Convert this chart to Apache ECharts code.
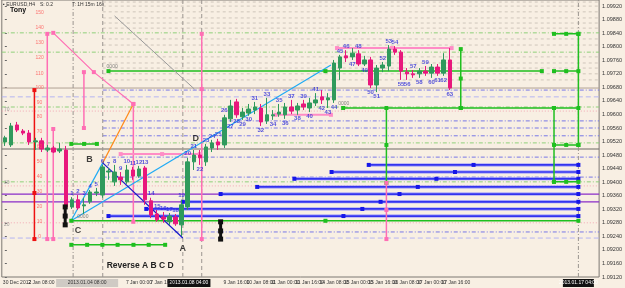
<!DOCTYPE html>
<html><head><meta charset="utf-8">
<script src="https://cdn.jsdelivr.net/npm/echarts/dist/echarts.min.js"></script>
<style>html,body{margin:0;padding:0;background:#f8efe3;}#c{width:625px;height:288px;}</style>
</head><body><div id="c"></div>
<script>
// ---------------- DATA ----------------
// candles: [open, close, low, high], one per bar (bar 0 = first visible bar)
const candles = [
[1.09519,1.09531,1.09507,1.09537],[1.09510,1.09566,1.09504,1.09575],[1.09569,1.09554,1.09548,1.09578],
[1.09551,1.09545,1.09539,1.09557],[1.09545,1.09519,1.09510,1.09554],[1.09519,1.09522,1.09495,1.09531],
[1.09522,1.09498,1.09489,1.09531],[1.09495,1.09501,1.09489,1.09510],[1.09501,1.09489,1.09486,1.09507],
[1.09492,1.09498,1.09486,1.09516],[1.09495,1.09327,1.09318,1.09507],
[1.09327,1.09348,1.09321,1.09356],[1.09348,1.09324,1.09318,1.09362],[1.09330,1.09333,1.09306,1.09354],
[1.09342,1.09371,1.09336,1.09377],[1.09368,1.09371,1.09359,1.09383],[1.09362,1.09445,1.09354,1.09451],
[1.09430,1.09433,1.09407,1.09442],[1.09401,1.09430,1.09389,1.09451],[1.09415,1.09407,1.09392,1.09430],
[1.09401,1.09436,1.09395,1.09451],[1.09436,1.09418,1.09407,1.09445],[1.09418,1.09439,1.09413,1.09448],
[1.09442,1.09348,1.09333,1.09448],[1.09345,1.09303,1.09294,1.09354],[1.09306,1.09289,1.09283,1.09318],
[1.09297,1.09291,1.09280,1.09312],[1.09283,1.09300,1.09274,1.09309],[1.09297,1.09277,1.09271,1.09306],
[1.09274,1.09333,1.09241,1.09348],[1.09327,1.09460,1.09318,1.09472],[1.09460,1.09480,1.09436,1.09495],
[1.09480,1.09472,1.09451,1.09495],[1.09460,1.09504,1.09448,1.09513],[1.09501,1.09516,1.09489,1.09525],
[1.09519,1.09510,1.09495,1.09528],[1.09510,1.09590,1.09501,1.09599],[1.09587,1.09625,1.09578,1.09643],
[1.09637,1.09599,1.09590,1.09646],[1.09593,1.09607,1.09584,1.09619],[1.09604,1.09616,1.09596,1.09631],
[1.09613,1.09622,1.09601,1.09637],[1.09619,1.09578,1.09566,1.09631],[1.09581,1.09599,1.09572,1.09649],
[1.09596,1.09599,1.09584,1.09613],[1.09601,1.09607,1.09593,1.09631],[1.09599,1.09622,1.09587,1.09634],
[1.09622,1.09610,1.09601,1.09643],[1.09613,1.09625,1.09599,1.09634],[1.09631,1.09622,1.09613,1.09643],
[1.09619,1.09634,1.09607,1.09649],[1.09634,1.09643,1.09625,1.09663],[1.09652,1.09643,1.09631,1.09672],
[1.09643,1.09649,1.09619,1.09663],[1.09643,1.09752,1.09634,1.09761],[1.09737,1.09770,1.09702,1.09776],
[1.09773,1.09767,1.09755,1.09790],[1.09770,1.09781,1.09761,1.09796],[1.09779,1.09749,1.09743,1.09790],
[1.09749,1.09761,1.09743,1.09773],[1.09761,1.09687,1.09678,1.09770],[1.09687,1.09737,1.09666,1.09746],
[1.09737,1.09746,1.09725,1.09755],[1.09743,1.09793,1.09728,1.09805],[1.09793,1.09784,1.09776,1.09802],
[1.09784,1.09728,1.09702,1.09790],[1.09725,1.09720,1.09702,1.09737],[1.09720,1.09717,1.09708,1.09731],
[1.09720,1.09728,1.09708,1.09737],[1.09728,1.09722,1.09714,1.09743],[1.09722,1.09740,1.09708,1.09749],
[1.09740,1.09722,1.09714,1.09749],[1.09722,1.09761,1.09714,1.09781],[1.09761,1.09678,1.09672,1.09796]
];
const firstNumberedBar = 11;          // bar of candle "1"
const numberSides = "uuuuuuuuuuuuuuuuuuuu" + "uduuuudddd" + "ududududud" + "uddduududd" + "duuuddudud" + "ddd";
const barCount = 98;

const timeLabelBars  = [2, 6, 22, 26, 38, 42, 46, 50, 54, 58, 62, 66, 70, 74];
const timeLabelTexts = ['30 Dec 2012','2 Jan 08:00','7 Jan 00:00','7 Jan 16:00','9 Jan 16:00','10 Jan 08:00',
  '11 Jan 00:00','11 Jan 16:00','14 Jan 08:00','15 Jan 00:00','15 Jan 16:00','16 Jan 08:00','17 Jan 00:00','17 Jan 16:00'];

const priceMin = 1.0912, priceMax = 1.09938, priceStep = 0.0004;

// horizontal levels
const grayDashLevels  = [1.09932,1.09920,1.09903,1.09885,1.09870,1.09855,1.09823,1.09805,1.09770,1.09752,1.09737,1.09720,1.09702];
const greenDashLevels = [1.09841,1.09784,1.09622,1.09516,1.09401];
const pinkDotLevels   = [1.09610,1.09389,1.09280];
const blueDashLevels  = [1.09672,1.09581,1.09560,1.09537,1.09474,1.09415,1.09253];
const lavenderLevels  = [1.09652,1.09235];
const graySolidLevels = [1.09678,1.09498];
const purpleLevels    = [1.09365,1.09342];
const levelStartBar = 16.06;

const blueLevels    = [1.09451,1.09430,1.09410,1.09386,1.09365,1.09342,1.09321,1.09300];
const blueStartBars = [59.7,53.6,47.5,41.4,35.4,29.2,23.2,17.0];
const rightBar = 94.1;

const greenHLevels = [1.09728,1.09619,1.09286,1.09513,1.09215];
const greenHBars   = [[17,52.6,88.1],[55.5,74.8,90.1,94.1],[10.9,52.6,94.1],[10.9,13,15.1],[10.9,13.5,16,18.5,21.1,23.6,26.3]];
const greenVBars   = [62.6,74.8,94.1,90.1];
const greenVPrices = [[1.09619,1.09510,1.09398],[1.09793,1.09706,1.09619],[1.09838,1.09510],[1.09619,1.09401]];
const greenBoxLevels = [1.09838,1.09728,1.09510,1.09401];
const greenBoxBars   = [90.1,92.1,94.1];

const pinkVBars   = [6.96,7.94,12.97,21.08,32.3,62.6];
const pinkVPrices = [[1.09838,1.09232],[1.09557,1.09232],[1.09725,1.09560],[1.09631,1.09283],[1.09838,1.09675,1.09232],[1.09398,1.09318,1.09232]];
const redVBar = 4.85, redVPrices = [1.09672,1.09368,1.09232];
const pinkHLevels = [1.09796,1.09599,1.09483];
const pinkHBars   = [[54.5,63.5,73.3],[44.4,53.5],[19,25.8,32]];
const pinkDiag    = [[7.94,1.09841],[14.6,1.09725],[21.08,1.09631]];

const cyanShort = [[10.86,1.09286],[16.06,1.09457]];
const cyanLong  = [[10.86,1.09286],[53.5,1.09746]];
const orangeLeg = [[16.06,1.09457],[21.08,1.09631]];
const navyLeg   = [[16.06,1.09457],[29.2,1.09235]];
const grayDiag  = [[18,1.09891],[31.1,1.09675]];
const blackMarks = [[[9.9,1.09327],[9.9,1.09300],[9.9,1.09274]],[[35.4,1.09283],[35.4,1.09256],[35.4,1.09232]]];
const vDashBars = [11.2,16.06,29.2,32.3,94.1];

const pointNames  = ['A','B','C','D'];
const pointBars   = [29.2,13.9,12.0,31.3];
const pointPrices = [1.09203,1.09466,1.09256,1.09528];
const zeroBars    = [17.6,55.6,12.8];
const zeroPrices  = [1.09740,1.09631,1.09297];
const rulerTexts  = ['150','140','130','120','110','100','90','80','70','60','50','40','30','20','10','0'];
const rulerPrices = [1.09900,1.09855,1.09811,1.09767,1.09722,1.09678,1.09634,1.09593,1.09548,1.09504,1.09460,1.09415,1.09371,1.09327,1.09283,1.09238];
const rulerBar = 5.7;
const sideTexts = ['70','30','20'];
const sidePrices = [1.09613,1.09398,1.09274];

const tagPrices = [1.09841,1.09784,1.09678,1.09619,1.09610,1.09510,1.09495,1.09401,1.09389,1.09368,1.09345,1.09280,1.09235];
const tagKinds  = ['g','g','k','g','p','g','k','g','p','v','v','p','l'];

const timeBoxBars  = [13.5, 30.2, 94.1];
const timeBoxTexts = ['2013.01.04 08:00','2013.01.08 04:00','2013.01.17 04:00'];

// ---------------- CHART ----------------
const chart = echarts.init(document.getElementById('c'));
const FONT = 'Liberation Sans, Arial, sans-serif';
const cats = []; for (let i = 0; i < barCount; i++) cats.push(String(i));
const series = [];
const lo = -0.5, hi = barCount - 0.5;

function L(data, color, width, type, sym, z) {
  series.push({type:'line', xAxisIndex:1, data:data, silent:true, animation:false,
    symbol: sym ? 'rect' : 'none', symbolSize: sym || 0, showSymbol: !!sym,
    lineStyle:{color:color, width:width, type:type||'solid'}, itemStyle:{color:color},
    z: z || 2});
}
const DD = [4,2,1,2];
grayDashLevels.forEach(p => L([[levelStartBar,p],[hi,p]], '#cfc6bb', 1, [3,3]));
greenDashLevels.forEach(p => L([[lo,p],[hi,p]], '#8fd07a', 1, DD));
pinkDotLevels.forEach(p => L([[lo,p],[hi,p]], '#f2a8b4', 1, [1,2]));
blueDashLevels.forEach(p => L([[levelStartBar,p],[hi,p]], '#7777e6', 1, DD));
lavenderLevels.forEach(p => L([[lo,p],[hi,p]], '#b4b4f2', 1, [5,3]));
L([[lo,graySolidLevels[0]],[hi,graySolidLevels[0]]], '#b0a294', 1);
L([[lo,graySolidLevels[1]],[hi,graySolidLevels[1]]], '#6f6a66', 1.2);
purpleLevels.forEach(p => L([[lo,p],[hi,p]], '#8a2cc8', 1.2));
vDashBars.forEach((b,i) => L([[b,priceMin],[b,priceMax]], '#9b9590', 1, (i===0||i===4)? DD : [4,3]));

blueLevels.forEach((p,i) => {
  const s = blueStartBars[i];
  L([[s,p],[(s+rightBar)/2,p],[rightBar,p]], '#8c8cff', 3, 'solid', 0, 3);
  L([[s,p],[(s+rightBar)/2,p],[rightBar,p]], '#1616e8', 1.2, 'solid', 4, 4);
});
greenHLevels.forEach((p,i) => L(greenHBars[i].map(b => [b,p]), '#1fbf1f', 1.5, 'solid', 4, 4));
greenVBars.forEach((b,i) => L(greenVPrices[i].map(p => [b,p]), '#1fbf1f', 1.5, 'solid', 4, 4));
greenBoxLevels.forEach(p => L(greenBoxBars.map(b => [b,p]), '#1fbf1f', 1.5, 'solid', 4, 4));

pinkVBars.forEach((b,i) => L(pinkVPrices[i].map(p => [b,p]), '#ff6eb4', 1.5, 'solid', 4, 4));
L(redVPrices.map(p => [redVBar,p]), '#ee1111', 1.5, 'solid', 4, 4);
pinkHLevels.forEach((p,i) => L(pinkHBars[i].map(b => [b,p]), '#ff8cc6', 2, 'solid', 4, 4));
L(pinkDiag, '#ff6eb4', 1.2, 'solid', 4, 4);
L(cyanShort, '#1eaaf5', 1.2, 'solid', 0, 4);
L(cyanLong, '#1eaaf5', 1.2, 'solid', 0, 4);
L(orangeLeg, '#ff8a1a', 1.2, 'solid', 0, 4);
L(navyLeg, '#1818c8', 1.2, 'solid', 0, 4);
L(grayDiag, '#9a9a9a', 1, 'solid', 0, 4);
blackMarks.forEach(m => L(m, '#111', 3, 'solid', 5, 6));

// candles
series.push({type:'candlestick', xAxisIndex:0, data:candles, barWidth:4, z:5, animation:false,
  itemStyle:{color:'#2f9a5c', color0:'#e8177c', borderColor:'#2f9a5c', borderColor0:'#e8177c', borderWidth:1}});

// candle numbers
const numData = [];
for (let n = 1; n <= candles.length - firstNumberedBar; n++) {
  const bar = firstNumberedBar + n - 1, c = candles[bar], up = numberSides[n-1] === 'u';
  numData.push({value:[bar, up ? c[3] : c[2]], name:String(n),
    label:{position: up ? 'top' : 'bottom'}});
}
series.push({type:'scatter', xAxisIndex:1, data:numData,
  symbolSize:0, z:7, silent:true, animation:false,
  label:{show:true, formatter:p => p.name, color:'#2b2bd8', fontSize:6, fontWeight:'bold', fontFamily:FONT, distance:1}});

function T(bars, prices, texts, style, z) {
  series.push({type:'scatter', xAxisIndex:1, symbolSize:0, silent:true, animation:false, z:z||8,
    data: bars.map((b,i) => ({value:[b, prices[i]], name:texts[i]})),
    label:Object.assign({show:true, position:'inside', formatter:p => p.name, fontFamily:FONT}, style)});
}
T(pointBars, pointPrices, pointNames, {color:'#111', fontSize:9, fontWeight:'bold'});
T(zeroBars, zeroPrices, ['0000','0000','0000'], {color:'#666', fontSize:5});
T(rulerPrices.map(() => rulerBar), rulerPrices, rulerTexts, {color:'#ff5555', fontSize:5});
T(sidePrices.map(() => 0.3), sidePrices, sideTexts, {color:'#888', fontSize:5});

// right axis price tags
const tagStyle = {g:['#19d219','#fff'], k:['#000','#fff'], p:['#ffa6a6','#fff'], v:['#7a25b0','#fff'], l:['#9d9df0','#fff']};
series.push({type:'line', xAxisIndex:1, data:[], silent:true, animation:false, z:9,
  markLine:{symbol:'none', silent:true, animation:false,
    data: tagPrices.map((p,i) => ({yAxis:p, lineStyle:{opacity:0},
      label:{show:true, position:'end', distance:1, formatter:p.toFixed(5), fontSize:5.5, fontFamily:FONT,
        backgroundColor:tagStyle[tagKinds[i]][0], color:tagStyle[tagKinds[i]][1], padding:[1,2,1,2]}}))}});

chart.setOption({
  backgroundColor:'#f8efe3',
  animation:false,
  grid:{left:1, right:21, top:0, bottom:11, show:true, borderColor:'#7d7873', borderWidth:1},
  xAxis:[
    {type:'category', data:cats, boundaryGap:true, axisLine:{show:false}, axisTick:{show:false}, splitLine:{show:false},
     axisLabel:{interval:0, fontSize:5, color:'#333', margin:3, fontFamily:FONT,
       formatter:(v) => { const i = timeLabelBars.indexOf(Number(v)); return i >= 0 ? timeLabelTexts[i] : ''; }}},
    {type:'value', min:lo, max:hi, show:false}
  ],
  yAxis:{type:'value', position:'right', min:priceMin, max:priceMax, interval:priceStep, scale:true,
    axisLine:{show:false}, axisTick:{show:true, length:2, lineStyle:{color:'#666'}}, splitLine:{show:false},
    axisLabel:{fontSize:5.5, color:'#333', margin:3, fontFamily:FONT, formatter:v => v.toFixed(5), showMaxLabel:false}},
  series:series
});

// header text and x-axis time boxes (placed from data via the axes)
function px(bar){ return chart.convertToPixel({xAxisIndex:1}, bar); }
const boxWidths = [62, 43, 31];
const boxFills = [['#cfcac4','#333'],['#111','#fff'],['#111','#fff']];
chart.setOption({graphic:[
  {type:'text', left:3, top:2, style:{text:'▪ EURUSD,H4', fontSize:5, fill:'#333', fontFamily:FONT}},
  {type:'text', left:40, top:2, style:{text:'S: 0.2', fontSize:5, fill:'#333', fontFamily:FONT}},
  {type:'text', left:72, top:2, style:{text:'T: 1H 15m 16s', fontSize:5, fill:'#333', fontFamily:FONT}},
  {type:'text', left:10, top:7, style:{text:'Tony', fontSize:7, fontWeight:'bold', fill:'#111', fontFamily:FONT}},
  {type:'text', x:px(22.2), y:chart.convertToPixel({yAxisIndex:0}, 1.09153), style:{text:'Reverse A B C D', fontSize:8.5, fontWeight:'bold', fill:'#222', fontFamily:FONT, align:'center', verticalAlign:'middle'}, z:20}
].concat(timeBoxBars.map((b,i) => ({type:'group', x:px(b), y:283, z:30, children:[
  {type:'rect', shape:{x:-boxWidths[i]/2, y:-4, width:boxWidths[i], height:8}, style:{fill:boxFills[i][0]}},
  {type:'text', style:{text:timeBoxTexts[i], fontSize:5, fill:boxFills[i][1], fontFamily:FONT, align:'center', verticalAlign:'middle'}}
]})))});
</script></body></html>
